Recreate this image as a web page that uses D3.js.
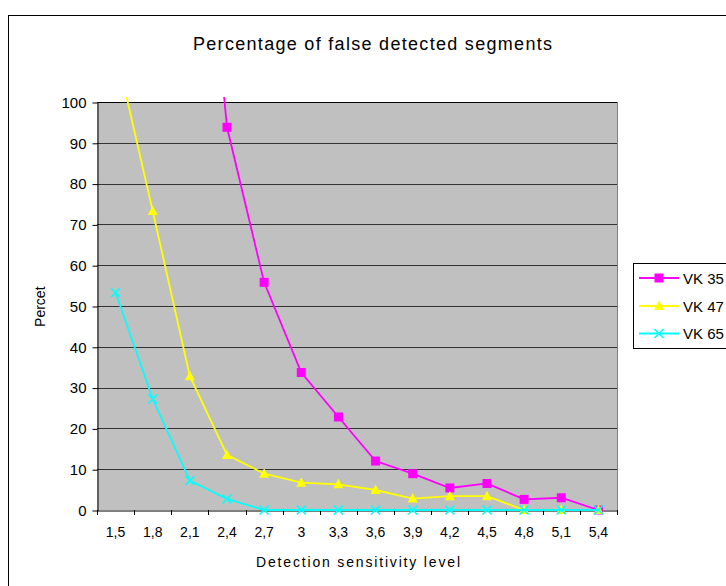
<!DOCTYPE html>
<html>
<head>
<meta charset="utf-8">
<script src="https://cdn.jsdelivr.net/npm/d3@7"></script>
<style>
  body { margin: 0; background: #fff; }
  svg text { font-family: Arial, "Liberation Sans", sans-serif; fill: #000; }
</style>
</head>
<body>
<div id="chart"></div>
<script>
const categories = ["1,5", "1,8", "2,1", "2,4", "2,7", "3", "3,3", "3,6", "3,9", "4,2", "4,5", "4,8", "5,1", "5,4"];
const vk35 = [null, null, 190, 93.8, 55.8, 33.7, 22.8, 12, 8.9, 5.4, 6.5, 2.6, 3.0, 0];
const vk47 = [113, 73.3, 32.8, 13.5, 8.9, 6.7, 6.3, 4.9, 2.8, 3.4, 3.4, 0, 0, 0];
const vk65 = [53.3, 27.2, 7.2, 2.7, 0, 0, 0, 0, 0, 0, 0, 0, 0, 0];
const seriesNames = ["VK 35", "VK 47", "VK 65"];
const yTicks = [0, 10, 20, 30, 40, 50, 60, 70, 80, 90, 100];

(function() {
    const width = 726, height = 586;
    const plot = { left: 97, right: 617, top: 102, bottom: 510 };

    const svg = d3.select("#chart").append("svg")
        .attr("width", width)
        .attr("height", height);

    // outer chart frame (cut off at right/bottom like the original)
    svg.append("rect")
        .attr("x", 8.5).attr("y", 15.5)
        .attr("width", 800).attr("height", 800)
        .attr("fill", "#fff").attr("stroke", "#000");

    svg.append("text")
        .attr("x", 372.5).attr("y", 50)
        .attr("text-anchor", "middle")
        .attr("textLength", 359).attr("lengthAdjust", "spacing")
        .style("font-size", "18px")
        .text("Percentage of false detected segments");

    const x = d3.scaleBand().domain(categories).range([plot.left, plot.right]).padding(0);
    const y = d3.scaleLinear().domain([0, 100]).range([plot.bottom, plot.top]);
    const cx = d => x(d) + x.bandwidth() / 2;

    // plot background
    svg.append("rect")
        .attr("x", plot.left).attr("y", plot.top)
        .attr("width", plot.right - plot.left).attr("height", plot.bottom - plot.top)
        .attr("fill", "#c0c0c0");

    svg.append("line")
        .attr("x1", plot.right + 0.5).attr("x2", plot.right + 0.5)
        .attr("y1", plot.top).attr("y2", plot.bottom)
        .attr("stroke", "#808080").attr("stroke-width", 1);

    // gridlines
    svg.append("g").selectAll("line")
        .data(yTicks.filter(d => d > 0))
        .enter().append("line")
        .attr("x1", plot.left).attr("x2", plot.right)
        .attr("y1", d => Math.round(y(d)) + 0.5).attr("y2", d => Math.round(y(d)) + 0.5)
        .attr("stroke", d => d === 100 ? "#000" : "#333")
        .attr("stroke-width", 1);

    // y axis
    const yAxis = svg.append("g")
        .attr("transform", `translate(${plot.left + 0.5},0.5)`)
        .call(d3.axisLeft(y).tickValues(yTicks).tickSize(5).tickSizeOuter(0).tickPadding(6));
    yAxis.select(".domain").attr("stroke", "#000");
    yAxis.selectAll(".tick text").style("font-size", "15px").attr("font-family", null);

    // x axis labels
    const xAxis = svg.append("g")
        .attr("transform", `translate(0,${plot.bottom + 0.5})`)
        .call(d3.axisBottom(x).tickSize(0).tickSizeOuter(0));
    xAxis.select(".domain").attr("stroke", "#000");
    xAxis.selectAll(".tick text")
        .attr("y", 26.5).attr("dy", null)
        .style("font-size", "14px").attr("font-family", null);

    // x ticks between categories
    svg.append("g").selectAll("line")
        .data(d3.range(categories.length + 1))
        .enter().append("line")
        .attr("x1", i => Math.round(plot.left + i * x.step()) + 0.5)
        .attr("x2", i => Math.round(plot.left + i * x.step()) + 0.5)
        .attr("y1", plot.bottom).attr("y2", plot.bottom + 5)
        .attr("stroke", "#000");

    svg.append("text")
        .attr("x", 358).attr("y", 566.5)
        .attr("text-anchor", "middle")
        .attr("textLength", 204).attr("lengthAdjust", "spacing")
        .style("font-size", "14px")
        .text("Detection sensitivity level");

    svg.append("text")
        .attr("transform", "translate(45,306.7) rotate(-90)")
        .attr("text-anchor", "middle")
        .style("font-size", "14px")
        .text("Percet");

    // series
    svg.append("defs").append("clipPath").attr("id", "plot-clip")
        .append("rect")
        .attr("x", plot.left).attr("y", plot.top - 5)
        .attr("width", plot.right - plot.left + 5).attr("height", plot.bottom - plot.top + 15);

    const series = [
        { name: seriesNames[0], values: vk35, color: "#ff00ff", marker: "square" },
        { name: seriesNames[1], values: vk47, color: "#ffff00", marker: "triangle" },
        { name: seriesNames[2], values: vk65, color: "#00ffff", marker: "cross" }
    ];

    const line = d3.line()
        .defined(d => d.v !== null)
        .x(d => cx(d.c))
        .y(d => y(d.v));

    function drawMarker(g, type, color) {
        if (type === "square") {
            g.append("rect").attr("x", -4.5).attr("y", -4.5).attr("width", 9).attr("height", 9)
                .attr("fill", color);
        } else if (type === "triangle") {
            g.append("path").attr("d", "M0,-5.5L5,4L-5,4Z").attr("fill", color);
        } else {
            g.append("path").attr("d", "M-4.5,-4.5L4.5,4.5M-4.5,4.5L4.5,-4.5")
                .attr("stroke", color).attr("stroke-width", 1.6).attr("fill", "none");
        }
    }

    const plotGroup = svg.append("g").attr("clip-path", "url(#plot-clip)");

    series.forEach(function(s) {
        const pts = categories.map((c, i) => ({ c: c, v: s.values[i] }));
        plotGroup.append("path")
            .datum(pts)
            .attr("d", line)
            .attr("fill", "none")
            .attr("stroke", s.color)
            .attr("stroke-width", 1.8);

        plotGroup.selectAll(null)
            .data(pts.filter(d => d.v !== null && d.v <= 100))
            .enter().append("g")
            .attr("transform", d => `translate(${cx(d.c)},${y(d.v)})`)
            .each(function() { drawMarker(d3.select(this), s.marker, s.color); });
    });

    // legend
    const legend = svg.append("g");
    legend.append("rect")
        .attr("x", 633.5).attr("y", 263.5)
        .attr("width", 120).attr("height", 85)
        .attr("fill", "#fff").attr("stroke", "#000");

    const rows = legend.selectAll("g.row")
        .data(series)
        .enter().append("g")
        .attr("class", "row")
        .attr("transform", (d, i) => `translate(0,${[278, 306, 333.5][i]})`);

    rows.append("line")
        .attr("x1", 639).attr("x2", 679)
        .attr("stroke", d => d.color).attr("stroke-width", 1.8);
    rows.append("g")
        .attr("transform", "translate(659,0)")
        .each(function(d) { drawMarker(d3.select(this), d.marker, d.color); });
    rows.append("text")
        .attr("x", 683).attr("y", 5.5)
        .style("font-size", "15px")
        .text(d => d.name);
})();
</script>
</body>
</html>
